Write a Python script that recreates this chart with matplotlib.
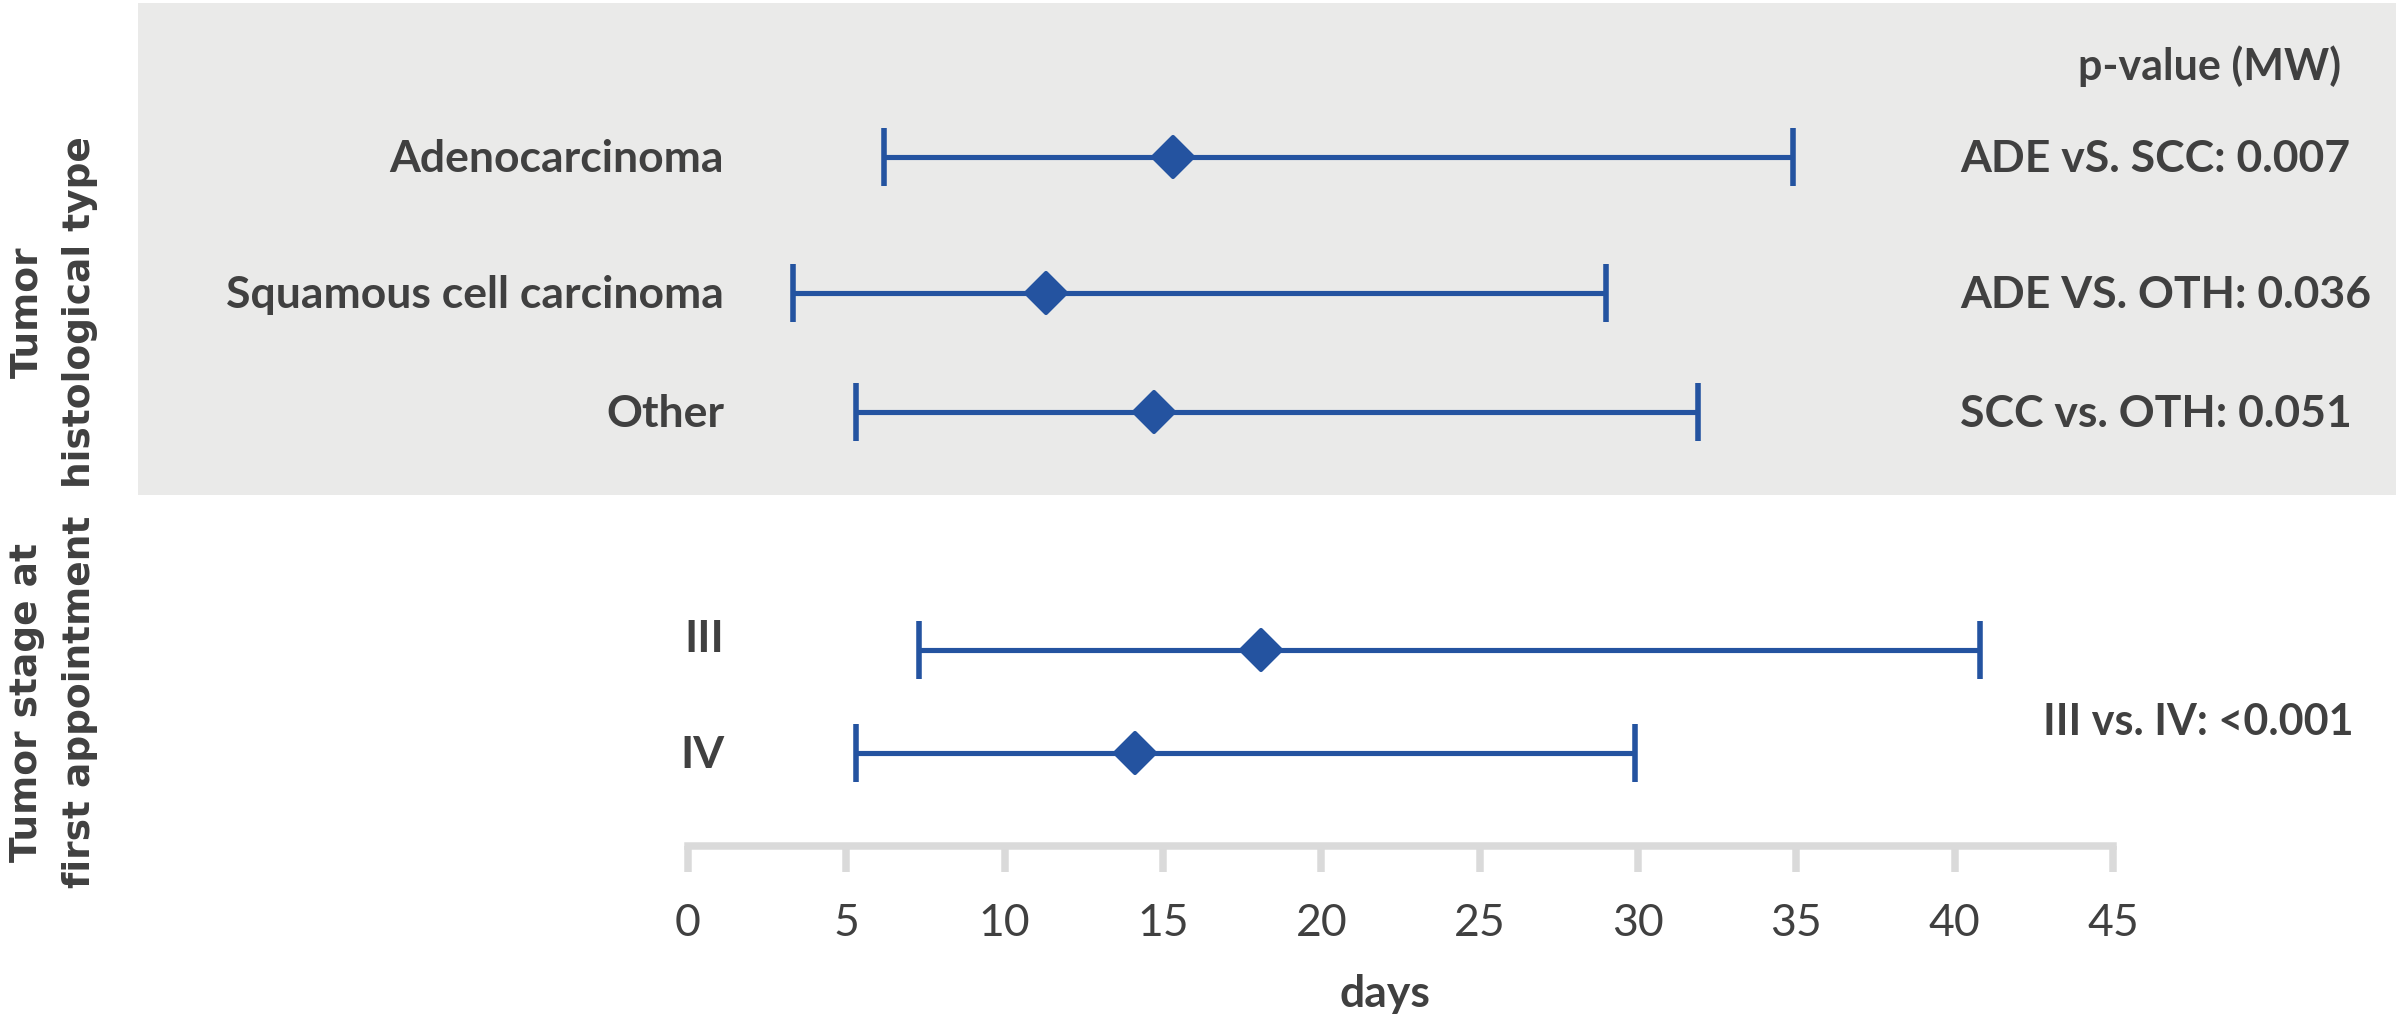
import matplotlib
matplotlib.use("Agg")
import matplotlib.pyplot as plt
from matplotlib.patches import Rectangle
from matplotlib.markers import MarkerStyle

# --- DATA (days) ---
categories = ["Adenocarcinoma", "Squamous cell carcinoma", "Other", "III", "IV"]
median_days = [15.3, 11.3, 14.7, 18.1, 14.1]
low_days = [6.2, 3.3, 5.3, 7.3, 5.3]
high_days = [34.9, 29.0, 31.9, 40.8, 29.9]

group_lines = [["Tumor", "histological type"], ["Tumor stage at", "first appointment"]]
pvalue_header = "p-value (MW)"
pvalue_texts = ["ADE vS. SCC: 0.007", "ADE VS. OTH: 0.036", "SCC vs. OTH: 0.051"]
stage_pvalue = "III vs. IV: <0.001"
x_ticks = [0, 5, 10, 15, 20, 25, 30, 35, 40, 45]

# --- LAYOUT (pixel rows of the 2406x1022 canvas) ---
W, H = 2406, 1022
row_y = [157, 293, 412, 650, 753]
group_y = [312, 702]
BLUE = "#2453A0"
TXT = "#404040"
AXC = "#DADADA"
FONT = "Lato"

def fx(x):
    return x / W

def fy(y):
    return 1 - y / H

fig = plt.figure(figsize=(W / 100, H / 100), dpi=100)

# grey band behind the histology block
fig.patches.append(Rectangle((fx(138), fy(495)), fx(2396) - fx(138), fy(3) - fy(495),
                             transform=fig.transFigure, facecolor="#EAEAE9",
                             edgecolor="none", zorder=-1))

ax = fig.add_axes([fx(688), fy(846), fx(2113) - fx(688), fy(0) - fy(846)])
ax.set_facecolor("none")
ax.set_xlim(0, 45)
ax.set_ylim(846, 0)

lower = [m - l for m, l in zip(median_days, low_days)]
upper = [h - m for m, h in zip(median_days, high_days)]
ax.errorbar(median_days, row_y, xerr=[lower, upper], fmt="none", ecolor=BLUE,
            elinewidth=3.7, capsize=21, capthick=4.0, zorder=2)
diamond = MarkerStyle("D", joinstyle="round")
ax.plot(median_days, row_y, linestyle="none", marker=diamond, markersize=20,
        markerfacecolor=BLUE, markeredgecolor=BLUE, markeredgewidth=3, zorder=3)

# axis styling
for side in ["left", "top", "right"]:
    ax.spines[side].set_visible(False)
ax.spines["bottom"].set_color(AXC)
ax.spines["bottom"].set_linewidth(5.4)
ax.spines["bottom"].set_capstyle("projecting")
ax.set_yticks([])
ax.set_xticks(x_ticks)
ax.tick_params(axis="x", direction="out", length=19, width=5.4, color=AXC,
               pad=22, labelsize=32, labelcolor=TXT)
for lab in ax.get_xticklabels():
    lab.set_fontfamily(FONT)

# category labels (right-aligned)
for name, y in zip(categories, row_y):
    off = 2 if name == "III" else 15
    fig.text(fx(724), fy(y + off), name, ha="right", va="baseline",
             fontsize=32, fontweight="bold", color=TXT, family=FONT)

# group labels, one rotated line at a time
for lines, yc in zip(group_lines, group_y):
    for txt, xc in zip(lines, [27, 80]):
        fig.text(fx(xc), fy(yc), txt, rotation=90, ha="center", va="center",
                 fontsize=27, fontweight="bold", color=TXT, family="DejaVu Sans")

# p-values
fig.text(fx(2341), fy(80), pvalue_header, ha="right", va="baseline",
         fontsize=31, fontweight="bold", color=TXT, family=FONT)
for t, y in zip(pvalue_texts, row_y[:3]):
    fig.text(fx(1960), fy(y + 15), t, ha="left", va="baseline",
             fontsize=32, fontweight="bold", color=TXT, family=FONT)
fig.text(fx(2043), fy(735), stage_pvalue, ha="left", va="baseline",
         fontsize=31, fontweight="bold", color=TXT, family=FONT)

fig.text(fx(1385), fy(1007), "days", ha="center", va="baseline",
         fontsize=32, fontweight="bold", color=TXT, family=FONT)

fig.savefig("out.png", dpi=100)
